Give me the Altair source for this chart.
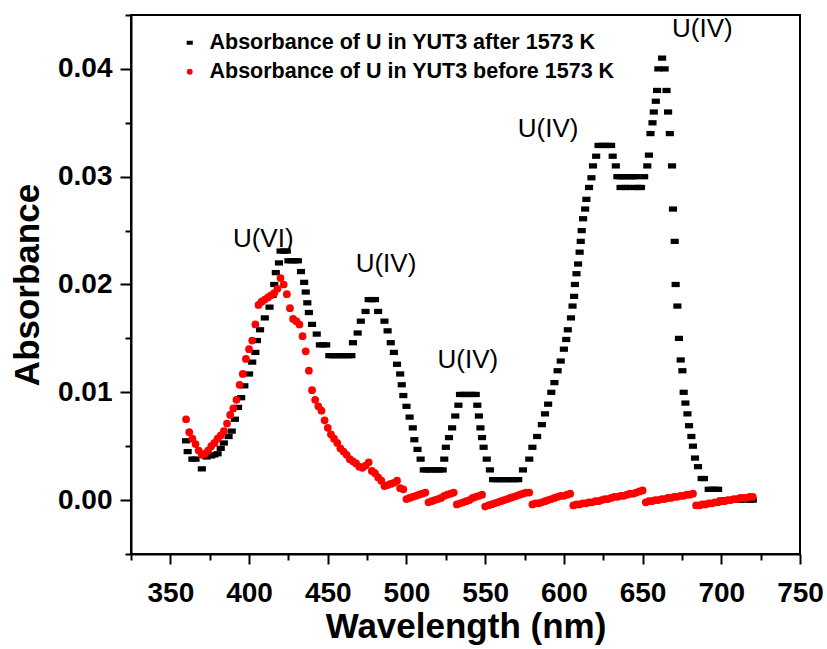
import altair as alt
import pandas as pd

FONT = "Liberation Sans"

series_names = [
    "Absorbance of U in YUT3 after 1573 K",
    "Absorbance of U in YUT3 before 1573 K",
]

# black series (after 1573 K)
after_wl = [
    360, 361, 364, 366, 370, 373, 376, 378, 380, 382, 384, 387, 389, 391, 393, 395, 397,
    400, 402, 404, 405, 407, 410, 413, 415, 416, 417, 419, 420, 422, 424, 425, 427, 429,
    431, 433, 435, 436, 437, 438, 440, 443, 445, 447, 449, 451, 453, 455, 457, 459, 461,
    463, 465, 466, 469, 471, 474, 476, 478, 480, 482, 486, 488, 490, 492, 494, 496, 497,
    498, 500, 502, 504, 505, 507, 509, 511, 513, 515, 517, 519, 521, 523, 524, 525, 527,
    529, 531, 533, 534, 536, 538, 540, 542, 544, 545, 546, 547, 548, 549, 551, 553, 555,
    557, 559, 561, 563, 565, 567, 569, 571, 574, 578, 580, 583, 586, 588, 590, 592, 594,
    596, 598, 600, 601.5, 602.5, 604.5, 605.5, 606.5, 607, 608, 609, 610, 610.7, 611.3,
    612.2, 613.5, 614.3, 616, 617.5, 618.5, 620.5, 622, 624, 626, 628, 630, 631, 633, 634,
    636, 638, 640, 642, 644, 646, 636, 639, 641, 645, 647, 649, 651, 653, 654, 655, 656.3,
    657.1, 658.4, 659.2, 660, 664, 662.4, 665.2, 666.2, 667.3, 668.7, 669.3, 670.4, 671,
    672.1, 673.1, 674.2, 675.3, 676.1, 677.2, 678.5, 679.5, 681, 682, 683.3, 685.2, 687.5,
    689, 692, 694, 696, 698, 700, 703, 706, 709, 712, 715, 718, 720,
]
after_abs = [
    0.0055, 0.0045, 0.0038, 0.0038, 0.0029, 0.0040, 0.0041, 0.0042, 0.0043, 0.0048, 0.0053, 0.0059, 0.0064, 0.0075, 0.0086, 0.0095, 0.0106,
    0.0117, 0.0128, 0.0137, 0.0148, 0.0158, 0.0169, 0.0179, 0.0190, 0.0200, 0.0211, 0.0220, 0.0231, 0.0231, 0.0231, 0.0222, 0.0222, 0.0222,
    0.0222, 0.0212, 0.0202, 0.0193, 0.0183, 0.0174, 0.0163, 0.0154, 0.0144, 0.0144, 0.0144, 0.0134, 0.0134, 0.0134, 0.0134, 0.0134, 0.0134,
    0.0134, 0.0134, 0.0146, 0.0155, 0.0166, 0.0175, 0.0186, 0.0186, 0.0186, 0.0175, 0.0166, 0.0157, 0.0146, 0.0137, 0.0126, 0.0117, 0.0107,
    0.0097, 0.0087, 0.0077, 0.0067, 0.0056, 0.0047, 0.0038, 0.0028, 0.0028, 0.0028, 0.0028, 0.0028, 0.0028, 0.0028, 0.0038, 0.0049, 0.0058,
    0.0067, 0.0078, 0.0088, 0.0098, 0.0098, 0.0098, 0.0098, 0.0098, 0.0098, 0.0088, 0.0078, 0.0067, 0.0058, 0.0049, 0.0038, 0.0028, 0.0019,
    0.0019, 0.0019, 0.0019, 0.0019, 0.0019, 0.0019, 0.0019, 0.0019, 0.0028, 0.0038, 0.0049, 0.0059, 0.0070, 0.0080, 0.0089, 0.0100, 0.0109,
    0.0120, 0.0129, 0.0140, 0.0149, 0.0158, 0.0169, 0.0180, 0.0189, 0.0200, 0.0210, 0.0219, 0.0230, 0.0240, 0.0250,
    0.0261, 0.0270, 0.0279, 0.0290, 0.0299, 0.0310, 0.0319, 0.0329, 0.0329, 0.0329, 0.0329, 0.0329, 0.0319, 0.0310, 0.0300,
    0.0300, 0.0300, 0.0300, 0.0300, 0.0300, 0.0300, 0.0290, 0.0290, 0.0290, 0.0290, 0.0290, 0.0290, 0.0300, 0.0310, 0.0320, 0.0340, 0.0350,
    0.0360, 0.0370, 0.0380, 0.0400, 0.0400, 0.0410, 0.0380, 0.0360, 0.0340, 0.0310, 0.0270, 0.0240, 0.0200,
    0.0180, 0.0150, 0.0130, 0.0120, 0.0100, 0.0090, 0.0080, 0.0069, 0.0059, 0.0050, 0.0039, 0.0031, 0.0020,
    0.0020, 0.0010, 0.0010, 0.0010, 0.0010, 0.0000, 0.0000, 0.0000, 0.0000, 0.0000, 0.0000, 0.0000, 0.0000,
]

# red series (before 1573 K), sampled every 2 nm from 360 to 720
before_wl = list(range(360, 721, 2))
before_abs = [
    0.0075, 0.0063, 0.0057, 0.0052, 0.0046, 0.0042, 0.0043, 0.0046, 0.0050, 0.0053,
    0.0057, 0.0060, 0.0064, 0.0071, 0.0079, 0.0085, 0.0093, 0.0107, 0.0117, 0.0131,
    0.0140, 0.0148, 0.0163, 0.0181, 0.0184, 0.0186, 0.0188, 0.0190, 0.0192, 0.0196,
    0.0206, 0.0200, 0.0191, 0.0178, 0.0168, 0.0166, 0.0163, 0.0152, 0.0138, 0.0120,
    0.0102, 0.0093, 0.0087, 0.0083, 0.0074, 0.0067, 0.0061, 0.0057, 0.0053, 0.0048,
    0.0045, 0.0042, 0.0038, 0.0036, 0.0034, 0.0031, 0.0030, 0.0032, 0.0035, 0.0027,
    0.0025, 0.0021, 0.0018, 0.0013, 0.0014, 0.0015, 0.0016, 0.0018, 0.0011, 0.0010,
    0.0001, 0.0002, 0.0003, 0.0004, 0.0005, 0.0006, 0.0007, -0.0002, -0.0001, 0.0000,
    0.0001, 0.0002, 0.0004, 0.0005, 0.0006, 0.0007, -0.0004, -0.0003, -0.0002, -0.0001,
    0.0000, 0.0002, 0.0003, 0.0004, 0.0005, -0.0006, -0.0005, -0.0004, -0.0003, -0.0002,
    -0.0001, 0.0000, 0.0001, 0.0002, 0.0003, 0.0004, 0.0005, 0.0006, 0.0007, 0.0007,
    -0.0004, -0.0003, -0.0003, -0.0002, -0.0001, 0.0000, 0.0001, 0.0002, 0.0003, 0.0004,
    0.0004, 0.0005, 0.0006, -0.0005, -0.0004, -0.0004, -0.0003, -0.0003, -0.0002, -0.0002,
    -0.0001, -0.0001, 0.0000, 0.0001, 0.0001, 0.0002, 0.0003, 0.0003, 0.0004, 0.0004,
    0.0005, 0.0006, 0.0006, 0.0007, 0.0008, 0.0009, -0.0002, -0.0001, -0.0001, 0.0000,
    0.0000, 0.0001, 0.0001, 0.0002, 0.0002, 0.0003, 0.0003, 0.0004, 0.0004, 0.0005,
    0.0005, 0.0006, -0.0005, -0.0005, -0.0004, -0.0004, -0.0003, -0.0003, -0.0002, -0.0002,
    -0.0001, -0.0001, 0.0000, 0.0000, 0.0001, 0.0001, 0.0002, 0.0002, 0.0002, 0.0003,
    0.0003,
]

# peak annotations
label_text = ["U(VI)", "U(IV)", "U(IV)", "U(IV)", "U(IV)"]
label_wl = [409, 487, 539, 590, 688]
label_abs = [0.0242, 0.0219, 0.0130, 0.0344, 0.0437]

# axis ticks
x_major = [350, 400, 450, 500, 550, 600, 650, 700, 750]
x_minor = [325, 375, 425, 475, 525, 575, 625, 675, 725]
y_major = [0.0, 0.01, 0.02, 0.03, 0.04]
y_minor = [-0.005, 0.005, 0.015, 0.025, 0.035, 0.045]

df = pd.concat(
    [
        pd.DataFrame({"wl": after_wl, "A": after_abs, "series": series_names[0]}),
        pd.DataFrame({"wl": before_wl, "A": before_abs, "series": series_names[1]}),
    ],
    ignore_index=True,
)
ann_df = pd.DataFrame({"wl": label_wl, "A": label_abs, "text": label_text})

x_scale = alt.Scale(domain=[325, 750], nice=False, zero=False)
y_scale = alt.Scale(domain=[-0.005, 0.045], nice=False, zero=False)

RECT = "M-1.05,-0.68L1.05,-0.68L1.05,0.68L-1.05,0.68Z"

common_axis = dict(
    grid=False, tickWidth=2, tickColor="black", domainColor="black", domainWidth=2,
    labelFont=FONT, labelFontWeight="bold", labelColor="black",
    titleFont=FONT, titleFontWeight="bold", titleColor="black",
    labelOverlap=False, labelFlush=False,
)

x_axis = alt.Axis(values=x_major, title="Wavelength (nm)", orient="bottom",
                  tickSize=10, labelFontSize=28, labelPadding=15,
                  titleFontSize=35, titlePadding=2, **common_axis)
y_axis = alt.Axis(values=y_major, format=".2f", title="Absorbance", orient="left",
                  tickSize=11, labelFontSize=28, labelPadding=8,
                  titleFontSize=35, titlePadding=12, **common_axis)

leg = alt.Legend(title=None, orient="none", legendX=48, legendY=17,
                 labelFont=FONT, labelFontSize=21.5, labelFontWeight="bold",
                 labelColor="black", symbolSize=34, labelOffset=9,
                 rowPadding=6, padding=0, labelLimit=0)

points = alt.Chart(df).mark_point(filled=True, opacity=1, strokeWidth=0, size=60).encode(
    x=alt.X("wl:Q", scale=x_scale, axis=x_axis),
    y=alt.Y("A:Q", scale=y_scale, axis=y_axis),
    color=alt.Color("series:N", scale=alt.Scale(domain=series_names, range=["#000000", "#ff0000"]), legend=leg),
    shape=alt.Shape("series:N", scale=alt.Scale(domain=series_names, range=[RECT, "circle"]), legend=leg),
)

minor = alt.Chart(df).mark_point(opacity=0).encode(
    x=alt.X("wl:Q", scale=x_scale,
            axis=alt.Axis(values=x_minor, orient="bottom", labels=False, domain=False,
                          grid=False, tickSize=6, tickWidth=2, tickColor="black", title=None)),
    y=alt.Y("A:Q", scale=y_scale,
            axis=alt.Axis(values=y_minor, orient="left", labels=False, domain=False,
                          grid=False, tickSize=6, tickWidth=2, tickColor="black", title=None)),
)

ann = alt.Chart(ann_df).mark_text(font=FONT, fontSize=26, color="black",
                                  align="center", baseline="middle").encode(
    x=alt.X("wl:Q", scale=x_scale, axis=None),
    y=alt.Y("A:Q", scale=y_scale, axis=None),
    text="text:N",
)

chart = (
    alt.layer(minor, points, ann)
    .resolve_axis(x="independent", y="independent")
    .properties(
        width=669, height=539,
        autosize=alt.AutoSizeParams(type="none"),
        padding={"left": 131, "top": 15, "right": 27, "bottom": 95},
        background="white",
    )
    .configure_view(stroke="black", strokeWidth=2)
)

chart.save("out.html", embed_options={"renderer": "svg", "actions": False})
